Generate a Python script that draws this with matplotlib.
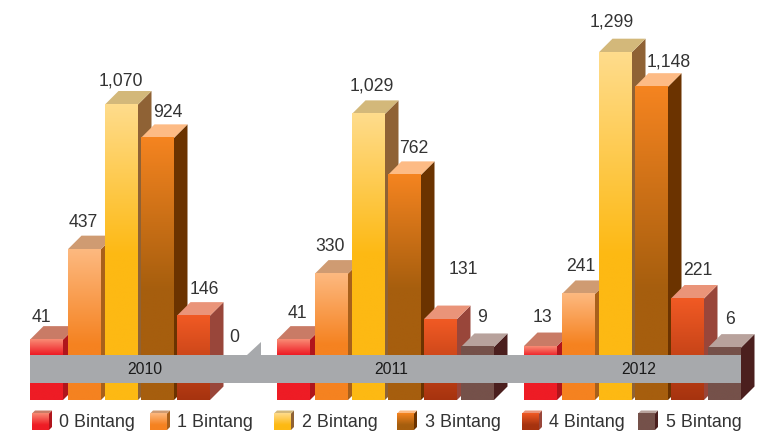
import numpy as np
import matplotlib
matplotlib.use('Agg')
import matplotlib.pyplot as plt
from matplotlib.colors import to_rgb
from matplotlib.patches import Polygon

plt.rcParams['font.family'] = ['Liberation Sans', 'DejaVu Sans']

years = ['2010', '2011', '2012']
series = ['0 Bintang', '1 Bintang', '2 Bintang', '3 Bintang', '4 Bintang', '5 Bintang']
v2010 = [41, 437, 1070, 924, 146, 0]
v2011 = [41, 330, 1029, 762, 131, 9]
v2012 = [13, 241, 1299, 1148, 221, 6]
values = [v2010, v2011, v2012]

# colours per series: gradient top, gradient bottom, top face, side face
grad_top = ['#f98b74', '#fdb980', '#ffdc8c', '#f58420', '#f15a24', '#75514a']
grad_bot = ['#ee1c25', '#f58220', '#fdb913', '#a65e0e', '#a6330f', '#75514a']
top_col = ['#c97b66', '#cf9b72', '#d3b87a', '#fdbb85', '#ea9479', '#b8a29c']
side_col = ['#b0151c', '#a8601b', '#8f6235', '#6b3300', '#99463a', '#4b1f1e']
band_col = '#a7a9ac'
txt_col = '#333333'

# layout, in pixels
W, H = 769, 434
base_px = 349
scale = 0.2285
bottom_px = 400
band = (355, 383)
depth = 13.5
bar_w = 33
group_x = [30, 277, 524]
bar_off = [0, 38, 75, 111, 147, 184]
grad_stop = [355, 345, 255, 290, 400, 400]
label_dx = [[11, 15, 16, 27, 27, 20], [20, 15, 20, 26, 39, 21], [18, 19, 13, 34, 27, 22]]
label_dy = [[22.6, 27, 23.5, 25, 26.6, 11], [26.6, 26.6, 28, 26, 50, 29], [29, 27, 30, 25, 28.5, 28.6]]
swatch_x = [32, 150, 274, 397, 522, 638]
legend_x = [59, 177, 302, 425, 549, 666]


def val(px):
    return (base_px - px) / scale


fig = plt.figure(figsize=(W / 100, H / 100), dpi=100)
ax = fig.add_axes([0, 0, 1, 1])
ax.axis('off')

z = [1]


def poly(pts, color):
    pts = [(x, val(y)) for x, y in pts]
    ax.add_patch(Polygon(pts, closed=True, fc=color, ec='none', zorder=z[0]))
    z[0] += 1


def gradient(x0, x1, y0, y1, c0, c1, stop):
    # vertical gradient from y0 (top) to stop, flat below it
    ys = np.linspace(y0, y1, 200)
    t = np.clip((ys - y0) / max(stop - y0, 1), 0, 1)[:, None]
    img = (1 - t) * np.array(to_rgb(c0)) + t * np.array(to_rgb(c1))
    ax.imshow(img[:, None, :], extent=(x0, x1, val(y1), val(y0)), origin='upper',
              aspect='auto', interpolation='bilinear', zorder=z[0])
    z[0] += 1


def block(x, y_top, y_bot, w, d, i, stop):
    poly([(x + w, y_top), (x + w + d, y_top - d), (x + w + d, y_bot - d), (x + w, y_bot)], side_col[i])
    poly([(x, y_top), (x + d, y_top - d), (x + w + d, y_top - d), (x + w, y_top)], top_col[i])
    gradient(x, x + w, y_top, y_bot, grad_top[i], grad_bot[i], stop)


for g, gx in enumerate(group_x):
    for i, v in enumerate(values[g]):
        x = gx + bar_off[i]
        top = base_px - v * scale
        if v == 0:
            # empty bar: only the tip of its side sticks out above the band
            poly([(x + bar_w, band[0]), (x + bar_w + depth, band[0]),
                  (x + bar_w + depth, band[0] - depth)], band_col)
            continue
        stop = max(top + 10, grad_stop[i])
        block(x, top, bottom_px, bar_w, depth, i, stop)

# grey band with the years
ax.fill_between([group_x[0], group_x[2] + bar_off[5] + bar_w], val(band[1]), val(band[0]),
                color=band_col, lw=0, zorder=z[0])
z[0] += 1

for g, gx in enumerate(group_x):
    ax.text(gx + 114.5, val(sum(band) / 2 + 0.5), years[g], ha='center', va='center',
            fontsize=11.3, color='#1a1a1a', zorder=z[0] + 50)
    for i, v in enumerate(values[g]):
        ax.text(gx + bar_off[i] + label_dx[g][i], val(base_px - v * scale - label_dy[g][i]), f'{v:,}',
                ha='center', va='center', fontsize=12.7, color=txt_col, zorder=z[0] + 50)

# legend
for i, name in enumerate(series):
    block(swatch_x[i], 413.5, 430, 17, 3, i, 425)
    ax.text(legend_x[i], val(422.5), name, ha='left', va='center', fontsize=12.9,
            color=txt_col, zorder=z[0] + 50)

ax.set_xlim(0, W)
ax.set_ylim(val(H), val(0))
fig.savefig('out.png', dpi=100)
plt.close()
